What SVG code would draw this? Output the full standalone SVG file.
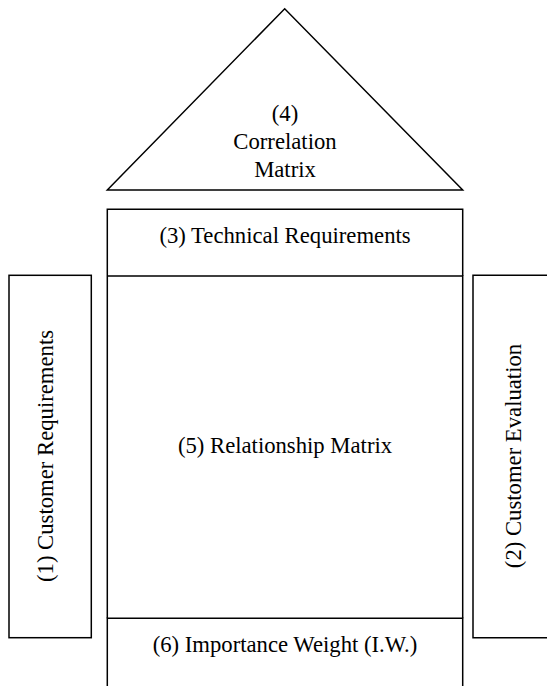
<svg xmlns="http://www.w3.org/2000/svg" width="547" height="686" viewBox="0 0 547 686">
<style>
.s{fill:none;stroke:#000;stroke-width:1.5}
.t{font-size:22.7px;fill:#000;text-anchor:middle}
</style>
<rect width="547" height="686" fill="#fff"/>
<g font-family="Liberation Serif, Times New Roman, serif">
<g id="correlation">
<polygon class="s" points="107.3,190 284.7,8.7 462.7,190"/>
<text class="t" x="285" y="121">(4)</text>
<text class="t" x="285" y="149">Correlation</text>
<text class="t" x="285" y="177">Matrix</text>
</g>
<g id="technical">
<path class="s" d="M107.3,276 V209.3 H462.7 V276"/>
<text class="t" x="285" y="243.3">(3) Technical Requirements</text>
</g>
<g id="relationship">
<path class="s" d="M107.3,276 H462.7 V618.3 M107.3,276 V618.3"/>
<text class="t" x="285" y="453">(5) Relationship Matrix</text>
</g>
<g id="importance">
<path class="s" d="M107.3,686 V618.3 H462.7 V686"/>
<text class="t" x="285" y="652">(6) Importance Weight (I.W.)</text>
</g>
<g id="customer-req">
<rect class="s" x="9" y="275.3" width="82.3" height="362.4"/>
<text class="t" transform="translate(53,456) rotate(-90)">(1) Customer Requirements</text>
</g>
<g id="customer-eval">
<path class="s" d="M550,275.3 H473 V637.7 H550"/>
<text class="t" transform="translate(521,456) rotate(-90)">(2) Customer Evaluation</text>
</g>
</g>
<g id="connectors"></g>
</svg>
